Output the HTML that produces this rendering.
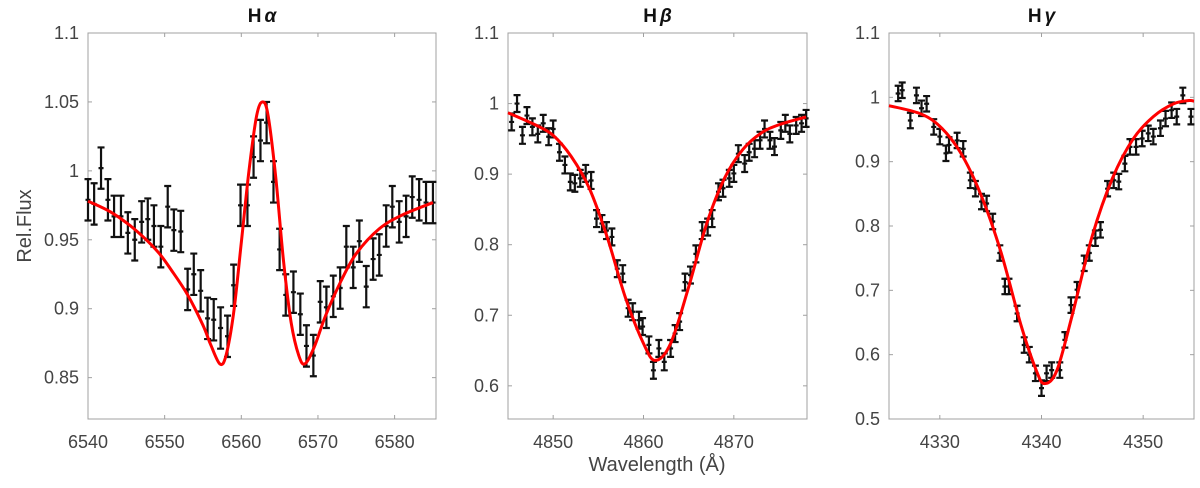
<!DOCTYPE html>
<html><head><meta charset="utf-8"><style>
body{margin:0;background:#fff;}
svg{display:block;font-family:"Liberation Sans",sans-serif;}
</style></head><body>
<svg id="c" width="1200" height="488" viewBox="0 0 1200 488" xmlns="http://www.w3.org/2000/svg">
<text x="0" y="0" transform="translate(31,226) rotate(-90)" text-anchor="middle" font-size="20" fill="#444">Rel.Flux</text>
<text x="657" y="471" text-anchor="middle" font-size="20" fill="#444">Wavelength (Å)</text>
</svg>
<script>
const haTitle = "α";
const haXTicks = [6540,6550,6560,6570,6580];
const haYTicks = [0.85,0.9,0.95,1,1.05,1.1];
const haYLabels = ["0.85","0.9","0.95","1","1.05","1.1"];
const haX = [6540.0,6540.8,6541.7,6542.6,6543.4,6544.3,6545.2,6546.1,6547.0,6547.8,6548.6,6549.5,6550.4,6551.2,6552.1,6553.0,6553.8,6554.7,6555.6,6556.4,6557.3,6558.2,6559.0,6559.9,6560.8,6561.6,6562.5,6563.3,6564.2,6565.0,6565.8,6566.8,6567.7,6568.5,6569.4,6570.3,6571.1,6572.0,6572.9,6573.7,6574.6,6575.4,6576.3,6577.2,6578.0,6578.9,6579.7,6580.6,6581.5,6582.3,6583.2,6584.1,6585.0];
const haY = [0.979,0.976,1.002,0.979,0.967,0.967,0.955,0.950,0.963,0.965,0.960,0.945,0.974,0.957,0.956,0.914,0.925,0.913,0.893,0.892,0.886,0.880,0.917,0.975,0.975,1.010,1.022,1.035,0.992,0.943,0.910,0.912,0.896,0.873,0.866,0.905,0.901,0.909,0.915,0.945,0.930,0.949,0.916,0.936,0.939,0.960,0.974,0.963,0.967,0.981,0.979,0.977,0.977];
const haErr = 0.015;
const haFitX = [6540,6543,6546,6549,6551,6553,6555,6556,6557.2,6558,6559,6560,6561,6562,6562.8,6563.5,6564.5,6565.5,6566.5,6567.5,6568.3,6569.5,6571,6573,6575,6578,6581,6585];
const haFitY = [0.978,0.970,0.958,0.942,0.927,0.910,0.888,0.874,0.860,0.866,0.897,0.948,1.000,1.040,1.050,1.040,0.995,0.935,0.890,0.866,0.860,0.872,0.895,0.920,0.940,0.958,0.968,0.977];

const hbTitle = "β";
const hbXTicks = [4850,4860,4870];
const hbYTicks = [0.6,0.7,0.8,0.9,1,1.1];
const hbYLabels = ["0.6","0.7","0.8","0.9","1","1.1"];
const hbX = [4845.4,4846.0,4846.6,4847.1,4847.7,4848.3,4848.9,4849.5,4850.0,4850.7,4851.3,4851.9,4852.4,4853.0,4853.6,4854.2,4854.8,4855.4,4855.9,4856.5,4857.1,4857.7,4858.3,4858.8,4859.5,4859.9,4860.6,4861.1,4861.7,4862.3,4863.0,4863.5,4864.0,4864.6,4865.2,4865.8,4866.5,4867.1,4867.6,4868.3,4868.8,4869.5,4870.0,4870.5,4871.2,4871.7,4872.3,4872.9,4873.4,4874.0,4874.5,4875.2,4875.7,4876.2,4876.9,4877.5,4878.0];
const hbY = [0.974,1.000,0.955,0.983,0.967,0.957,0.972,0.953,0.964,0.931,0.913,0.889,0.887,0.894,0.901,0.891,0.837,0.830,0.820,0.811,0.766,0.759,0.710,0.705,0.693,0.684,0.658,0.622,0.653,0.634,0.653,0.674,0.691,0.747,0.757,0.787,0.820,0.825,0.837,0.875,0.880,0.894,0.901,0.929,0.915,0.931,0.936,0.948,0.964,0.948,0.939,0.962,0.972,0.957,0.969,0.972,0.979];
const hbErr = 0.012;
const hbFitX = [4845,4848,4850,4852,4854,4856,4858,4860,4861.3,4863,4865,4867,4869,4871,4873,4875,4878];
const hbFitY = [0.987,0.970,0.955,0.925,0.880,0.810,0.725,0.660,0.636,0.660,0.740,0.830,0.895,0.935,0.958,0.970,0.981];

const hgTitle = "γ";
const hgXTicks = [4330,4340,4350];
const hgYTicks = [0.5,0.6,0.7,0.8,0.9,1,1.1];
const hgYLabels = ["0.5","0.6","0.7","0.8","0.9","1","1.1"];
const hgX = [4325.9,4326.3,4327.1,4327.7,4328.2,4328.7,4329.4,4330.0,4330.6,4330.9,4331.7,4332.3,4333.0,4333.5,4334.1,4334.6,4335.2,4335.9,4336.4,4336.8,4337.6,4338.3,4338.8,4339.4,4340.0,4340.5,4341.0,4341.8,4342.3,4342.9,4343.5,4344.2,4344.7,4345.3,4345.8,4346.5,4347.1,4347.6,4348.2,4348.7,4349.3,4349.9,4350.5,4351.0,4351.7,4352.2,4352.8,4353.3,4353.9,4354.7];
const hgY = [1.006,1.011,0.964,1.003,0.983,0.990,0.954,0.939,0.913,0.926,0.933,0.920,0.871,0.858,0.838,0.835,0.807,0.758,0.706,0.706,0.664,0.615,0.600,0.571,0.548,0.571,0.576,0.576,0.623,0.677,0.701,0.742,0.758,0.781,0.794,0.858,0.871,0.869,0.897,0.923,0.923,0.936,0.944,0.939,0.952,0.967,0.980,0.970,1.003,0.970];
const hgErr = 0.012;
const hgFitX = [4325,4328,4330,4332,4334,4336,4338,4339.5,4340.3,4341.5,4343,4345,4347,4349,4351,4353,4354.5,4355];
const hgFitY = [0.987,0.975,0.955,0.915,0.850,0.760,0.645,0.575,0.555,0.575,0.660,0.785,0.875,0.935,0.970,0.990,0.995,0.994];

const NS = "http://www.w3.org/2000/svg";
const svg = document.getElementById('c');
function mk(tag, attrs, parent){const e=document.createElementNS(NS,tag);for(const k in attrs)e.setAttribute(k,attrs[k]);(parent||svg).appendChild(e);return e;}

function panel(id, L, R, T, B, x0, x1, y0, y1, title, xt, yt, yl, xs, ys, err, fx, fy){
  const g = mk('g',{});
  
  
  const sx = v => L + (v-x0)/(x1-x0)*(R-L);
  const sy = v => B - (v-y0)/(y1-y0)*(B-T);
  const box = mk('rect',{x:L,y:T,width:R-L,height:B-T,fill:'none',stroke:'#a0a0a0','stroke-width':1},g);
  
  
  xt.forEach(v=>{
    const x=sx(v);
    mk('line',{x1:x,x2:x,y1:B,y2:B-4,stroke:'#a0a0a0'},g);
    mk('line',{x1:x,x2:x,y1:T,y2:T+4,stroke:'#a0a0a0'},g);
    const t=mk('text',{x:x,y:B+29,'text-anchor':'middle','font-size':18,fill:'#444'},g);
    
    
    t.textContent=String(v);
  });
  yt.forEach((v,i)=>{
    const y=sy(v);
    mk('line',{x1:L,x2:L+4,y1:y,y2:y,stroke:'#a0a0a0'},g);
    mk('line',{x1:R,x2:R-4,y1:y,y2:y,stroke:'#a0a0a0'},g);
    const t=mk('text',{x:L-9,y:y+6,'text-anchor':'end','font-size':18,fill:'#444'},g);
    
    
    t.textContent=yl[i];
  });
  const tt=mk('text',{x:(L+R)/2,y:22,'text-anchor':'middle','font-size':19,'font-weight':'bold',fill:'#111'},g);
  
  
  tt.innerHTML='H<tspan font-style="italic" dx="3">'+title+'</tspan>';
  xs.forEach((v,i)=>{
    const x=sx(v), y=sy(ys[i]), ya=sy(ys[i]+err), yb=sy(ys[i]-err);
    const p=mk('path',{d:`M${x},${ya}V${yb}M${x-3.5},${ya}H${x+3.5}M${x-3.5},${yb}H${x+3.5}M${x-2.5},${y}H${x+2.5}`,stroke:'#111','stroke-width':2.2,fill:'none'},g);
    
    
  });
  const P = fx.map((v,i)=>[sx(v),sy(fy[i])]);
  let d=`M${P[0][0]},${P[0][1]}`;
  for(let i=0;i<P.length-1;i++){
    const p0=P[Math.max(0,i-1)],p1=P[i],p2=P[i+1],p3=P[Math.min(P.length-1,i+2)];
    const c1=[p1[0]+(p2[0]-p0[0])/6,p1[1]+(p2[1]-p0[1])/6];
    const c2=[p2[0]-(p3[0]-p1[0])/6,p2[1]-(p3[1]-p1[1])/6];
    d+=`C${c1[0]},${c1[1]} ${c2[0]},${c2[1]} ${p2[0]},${p2[1]}`;
  }
  const fit=mk('path',{d:d,stroke:'#ff0000','stroke-width':3,fill:'none'},g);
  
  
}
panel('h-alpha',88,436,33,419,6540,6585.4,0.82,1.1,haTitle,haXTicks,haYTicks,haYLabels,haX,haY,haErr,haFitX,haFitY);
panel('h-beta',508,807,33,419,4845,4878.1,0.553,1.1,hbTitle,hbXTicks,hbYTicks,hbYLabels,hbX,hbY,hbErr,hbFitX,hbFitY);
panel('h-gamma',889,1194,33,419,4325,4355,0.5,1.1,hgTitle,hgXTicks,hgYTicks,hgYLabels,hgX,hgY,hgErr,hgFitX,hgFitY);
</script>
</body></html>
